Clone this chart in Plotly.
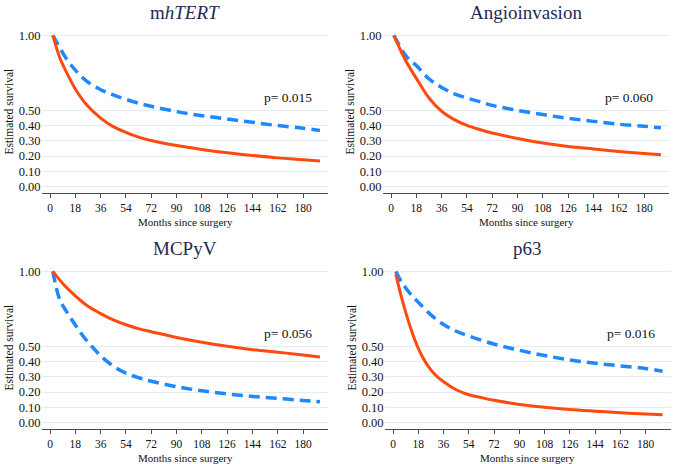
import plotly.graph_objects as go

W, H = 676, 464

titles = ["m<i>hTERT</i>", "Angioinvasion", "MCPyV", "p63"]
p_values = ["p= 0.015", "p= 0.060", "p= 0.056", "p= 0.016"]

# mhTERT
m1_orange_x = [2, 7, 12, 18, 26, 36, 45, 54, 64, 72, 90, 108, 126, 144, 162, 180, 192]
m1_orange_y = [1.0, 0.85, 0.75, 0.645, 0.54, 0.452, 0.395, 0.357, 0.322, 0.303, 0.27, 0.244, 0.222, 0.204, 0.188, 0.176, 0.167]
m1_blue_x = [2, 5, 12, 18, 26, 36, 45, 54, 64, 72, 90, 108, 126, 144, 162, 180, 192]
m1_blue_y = [1.0, 0.95, 0.84, 0.77, 0.697, 0.64, 0.605, 0.576, 0.548, 0.53, 0.495, 0.468, 0.446, 0.424, 0.402, 0.385, 0.37]

# Angioinvasion
m2_orange_x = [2, 10, 18, 27, 36, 45, 54, 63, 72, 90, 108, 126, 144, 162, 180, 192]
m2_orange_y = [1.0, 0.84, 0.715, 0.585, 0.497, 0.442, 0.403, 0.376, 0.353, 0.317, 0.286, 0.264, 0.247, 0.231, 0.217, 0.208]
m2_blue_x = [2, 11, 18, 27, 36, 45, 54, 63, 72, 90, 108, 126, 144, 162, 180, 192]
m2_blue_y = [1.0, 0.86, 0.80, 0.712, 0.655, 0.613, 0.585, 0.561, 0.536, 0.503, 0.475, 0.45, 0.43, 0.411, 0.398, 0.387]

# MCPyV
m3_orange_x = [2, 9.5, 18, 26, 36, 45, 54, 64, 72, 90, 108, 126, 144, 162, 180, 192]
m3_orange_y = [1.0, 0.915, 0.838, 0.775, 0.72, 0.678, 0.646, 0.617, 0.6, 0.562, 0.53, 0.503, 0.481, 0.464, 0.446, 0.433]
m3_blue_x = [2, 7, 12, 18, 24, 30, 36, 45, 54, 63, 72, 90, 108, 126, 144, 162, 180, 192]
m3_blue_y = [1.0, 0.81, 0.73, 0.645, 0.565, 0.50, 0.44, 0.372, 0.325, 0.295, 0.272, 0.236, 0.208, 0.187, 0.171, 0.158, 0.144, 0.136]

# p63
m4_orange_x = [2, 6, 12, 18, 24, 30, 36, 45, 54, 63, 72, 90, 108, 126, 144, 162, 180, 192]
m4_orange_y = [0.98, 0.83, 0.64, 0.49, 0.385, 0.315, 0.268, 0.215, 0.182, 0.163, 0.145, 0.118, 0.099, 0.084, 0.073, 0.063, 0.055, 0.05]
m4_blue_x = [2, 6, 12, 18, 27, 36, 45, 54, 72, 90, 108, 126, 144, 162, 180, 192]
m4_blue_y = [1.0, 0.93, 0.855, 0.795, 0.712, 0.648, 0.603, 0.572, 0.518, 0.477, 0.442, 0.413, 0.391, 0.373, 0.356, 0.338]

series = [
    (m1_orange_x, m1_orange_y, m1_blue_x, m1_blue_y),
    (m2_orange_x, m2_orange_y, m2_blue_x, m2_blue_y),
    (m3_orange_x, m3_orange_y, m3_blue_x, m3_blue_y),
    (m4_orange_x, m4_orange_y, m4_blue_x, m4_blue_y),
]

x_ticks = [0, 18, 36, 54, 72, 90, 108, 126, 144, 162, 180]
y_ticks = [0.0, 0.1, 0.2, 0.3, 0.4, 0.5, 1.0]
y_ticktext = ["0.00", "0.10", "0.20", "0.30", "0.40", "0.50", "1.00"]

ORANGE = "#ff4a0f"
BLUE = "#1e88ff"
NAVY = "#1f2b55"
FONT = "Liberation Serif"
GRID = "#e3edf1"
AXIS = "#4a4a4a"

# panel pixel boxes: (left, right, top, bottom)
boxes = [
    (41.6, 328.4, 29, 192),
    (382.6, 669.4, 29, 192),
    (41.6, 328.4, 266, 429),
    (384.6, 671.0, 266, 429),
]

fig = go.Figure()
annotations = []
for i, ((ox, oy, bx, by), (l, r, t, b)) in enumerate(zip(series, boxes)):
    n = "" if i == 0 else str(i + 1)
    xa, ya = "x" + n, "y" + n
    fig.add_trace(go.Scatter(x=bx, y=by, mode="lines", line=dict(color=BLUE, width=3.5, dash="11px,6px", shape="spline", smoothing=1.0),
                             xaxis=xa, yaxis=ya, showlegend=False, hoverinfo="skip"))
    fig.add_trace(go.Scatter(x=ox, y=oy, mode="lines", line=dict(color=ORANGE, width=3, shape="spline", smoothing=1.0),
                             xaxis=xa, yaxis=ya, showlegend=False, hoverinfo="skip"))
    fig.layout["xaxis" + n] = dict(
        domain=[l / W, r / W], range=[-6, 198], anchor=ya,
        tickvals=x_ticks, ticks="outside", ticklen=4, tickcolor=AXIS,
        showline=True, linecolor=AXIS, linewidth=1, showgrid=False, zeroline=False,
        tickfont=dict(family=FONT, size=11.5, color="#111"),
    )
    fig.layout["yaxis" + n] = dict(
        domain=[1 - b / H, 1 - t / H], range=[-0.046, 1.03], anchor=xa,
        tickvals=y_ticks, ticktext=y_ticktext, ticks="", showline=False,
        showgrid=True, gridcolor=GRID, gridwidth=1, zeroline=False,
        tickfont=dict(family=FONT, size=12.5, color="#111"),
    )
    cx = (l + r) / 2
    annotations.append(dict(text=titles[i], x=cx / W, y=1 - (t - 18) / H, xref="paper", yref="paper",
                            xanchor="center", yanchor="middle", showarrow=False,
                            font=dict(family=FONT, size=19, color=NAVY)))
    annotations.append(dict(text="Months since surgery", x=cx / W, y=1 - (b + 29) / H, xref="paper", yref="paper",
                            xanchor="center", yanchor="middle", showarrow=False,
                            font=dict(family=FONT, size=11, color="#111")))
    annotations.append(dict(text="Estimated survival", x=(l - 33) / W, y=1 - ((t + b) / 2) / H, xref="paper", yref="paper",
                            xanchor="center", yanchor="middle", showarrow=False, textangle=-90,
                            font=dict(family=FONT, size=11.5, color="#111")))
    annotations.append(dict(text=p_values[i], x=169.5, y=0.59, xref=xa, yref=ya,
                            xanchor="center", yanchor="middle", showarrow=False,
                            font=dict(family=FONT, size=13.5, color="#111")))

fig.update_layout(width=W, height=H, margin=dict(l=0, r=0, t=0, b=0),
                  paper_bgcolor="white", plot_bgcolor="white", annotations=annotations)
fig.write_html("out.html", config={"displayModeBar": False},
               post_script="document.body.style.margin='0';document.body.style.overflow='hidden';")
